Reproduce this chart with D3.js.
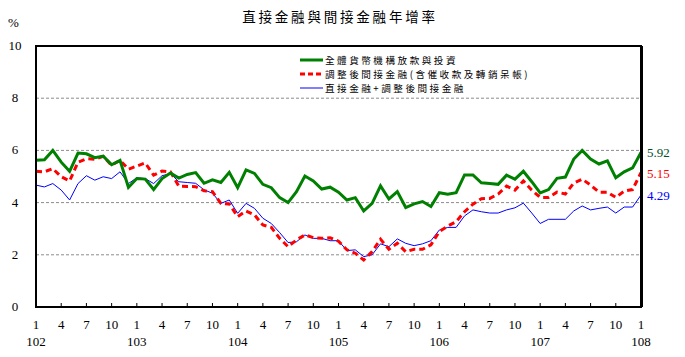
<!DOCTYPE html>
<html><head><meta charset="utf-8">
<script src="https://cdn.jsdelivr.net/npm/d3@7"></script>
<style>
body{margin:0;background:#fff;}
svg{display:block;}
</style></head>
<body>
<svg id="chart" width="685" height="357"></svg>
<script>
const title = "直接金融與間接金融年增率";
const seriesNames = ["全體貨幣機構放款與投資", "調整後間接金融(含催收款及轉銷呆帳)", "直接金融+調整後間接金融"];
const yearLabels = ["102","103","104","105","106","107","108"];
const monthLabels = ["1","4","7","10"];
const yTicks = [0,2,4,6,8,10];

const green = [5.62,5.64,6.0,5.55,5.2,5.9,5.87,5.72,5.78,5.45,5.62,
  4.58,4.92,4.9,4.5,4.92,5.13,4.94,
  5.08,5.15,4.74,4.87,4.77,5.16,4.57,5.25,5.12,4.7,4.57,4.19,
  4.0,4.42,5.02,4.83,4.52,4.59,4.4,4.1,4.19,3.68,
  3.97,4.64,4.14,4.42,3.81,3.95,4.04,3.85,4.38,4.32,
  4.38,5.06,5.06,4.76,4.73,4.7,5.05,4.9,5.2,4.8,
  4.37,4.5,4.93,4.98,5.67,6.0,5.67,5.48,5.6,4.95,
  5.18,5.33,5.92];
const red = [5.2,5.18,5.3,4.99,4.83,5.55,5.68,5.66,5.77,5.43,5.62,
  5.28,5.4,5.52,5.05,5.21,5.18,4.63,
  4.62,4.61,4.45,4.42,3.97,3.95,3.46,3.68,3.53,3.14,3.05,2.63,
  2.31,2.57,2.76,2.66,2.63,2.65,2.52,2.19,2.06,1.8,
  2.12,2.6,2.21,2.44,2.12,2.21,2.21,2.38,2.89,3.1,
  3.27,3.65,3.94,4.15,4.16,4.33,4.63,4.48,4.83,4.48,
  4.2,4.2,4.4,4.33,4.75,4.9,4.67,4.4,4.4,4.2,
  4.44,4.5,5.15];
const blue = [4.67,4.6,4.73,4.48,4.1,4.73,5.03,4.86,4.99,4.92,5.18,
  4.73,4.95,4.92,4.73,5.03,5.11,4.8,
  4.77,4.74,4.49,4.36,3.97,4.1,3.59,3.97,3.78,3.4,3.2,2.85,
  2.47,2.5,2.76,2.63,2.63,2.54,2.54,2.16,2.19,1.93,
  2.0,2.42,2.31,2.61,2.44,2.35,2.42,2.54,2.95,3.05,
  3.05,3.49,3.72,3.65,3.6,3.6,3.72,3.8,3.98,3.6,
  3.2,3.36,3.36,3.36,3.68,3.87,3.72,3.78,3.83,3.6,
  3.83,3.83,4.29];

const svg = d3.select("#chart");
const L = 36, R = 641, T = 46, B = 307;
const n = green.length;
const x = d3.scaleLinear().domain([0, n-1]).range([L, R]);
const y = d3.scaleLinear().domain([0, 10]).range([B, T]);
const serif = "'Liberation Serif','DejaVu Serif',serif";
const cjk = "'Noto Sans CJK TC','Noto Sans CJK SC',sans-serif";

// title
svg.append("text").attr("x", 340).attr("y", 22).attr("text-anchor","middle")
  .attr("font-family", cjk).attr("font-size", 13.5).attr("letter-spacing", 2.8)
  .text(title);
svg.append("text").attr("x", 8).attr("y", 27).attr("font-family", serif).attr("font-size", 13).text("%");

// gridlines
svg.append("g").selectAll("line").data(yTicks.filter(d => d>0 && d<10)).join("line")
  .attr("x1", L).attr("x2", R).attr("y1", d => y(d)).attr("y2", d => y(d))
  .attr("stroke", "#8c8c8c").attr("stroke-width", 1).attr("stroke-dasharray", "3,2");

// y labels
svg.append("g").selectAll("text").data(yTicks).join("text")
  .attr("x", 15).attr("y", d => y(d) + 4).attr("text-anchor","middle")
  .attr("font-family", serif).attr("font-size", 13).text(d => d);

// x axis ticks (inward)
const tickIdx = d3.range(0, n, 3);
svg.append("g").selectAll("line").data(tickIdx).join("line")
  .attr("x1", d => x(d)).attr("x2", d => x(d)).attr("y1", B).attr("y2", B-4)
  .attr("stroke", "#000").attr("stroke-width", 1);
svg.append("g").selectAll("text").data(tickIdx).join("text")
  .attr("x", d => x(d)).attr("y", 329).attr("text-anchor","middle")
  .attr("font-family", serif).attr("font-size", 13).text(d => monthLabels[(d%12)/3]);
svg.append("g").selectAll("text").data(yearLabels).join("text")
  .attr("x", (d,i) => x(i*12)).attr("y", 346).attr("text-anchor","middle")
  .attr("font-family", serif).attr("font-size", 13).text(d => d);

// lines
const line = d3.line().x((d,i) => x(i)).y(d => y(d));
svg.append("path").datum(blue).attr("d", line).attr("fill","none").attr("stroke","#0000ff").attr("stroke-width",1);
svg.append("path").datum(red).attr("d", line).attr("fill","none").attr("stroke","#ff0000").attr("stroke-width",3).attr("stroke-dasharray","6,4");
svg.append("path").datum(green).attr("d", line).attr("fill","none").attr("stroke","#008000").attr("stroke-width",3);

// frame
svg.append("rect").attr("x", L).attr("y", T).attr("width", R-L).attr("height", B-T)
  .attr("fill","none").attr("stroke","#000").attr("stroke-width",2);
svg.append("line").attr("x1", R+0.5).attr("x2", R+0.5).attr("y1", T).attr("y2", B).attr("stroke","#000").attr("stroke-width",3);

// end labels
const ends = [{v: green[n-1], c: "#00502a"}, {v: red[n-1], c: "#ff0000"}, {v: blue[n-1], c: "#0000ff"}];
svg.append("g").selectAll("text").data(ends).join("text")
  .attr("x", 647).attr("y", d => y(d.v) + 5)
  .attr("font-family", serif).attr("font-size", 13).attr("fill", d => d.c)
  .text(d => d.v.toFixed(2));

// legend
const legColors = ["#008000","#ff0000","#0000ff"];
const legWidths = [3,3,1];
const leg = svg.append("g").selectAll("g").data(seriesNames).join("g")
  .attr("transform", (d,i) => `translate(300, ${60 + i*14})`);
leg.append("line").attr("x1",0).attr("x2",23).attr("y1",0).attr("y2",0)
  .attr("stroke", (d,i) => legColors[i]).attr("stroke-width", (d,i) => legWidths[i])
  .attr("stroke-dasharray", (d,i) => i===1 ? "5,3" : null);
leg.append("text").attr("x", 25).attr("y", 3.5).attr("font-family", cjk).attr("font-size", 9.6)
  .attr("letter-spacing", 2.5).text(d => d);
</script>
</body></html>
